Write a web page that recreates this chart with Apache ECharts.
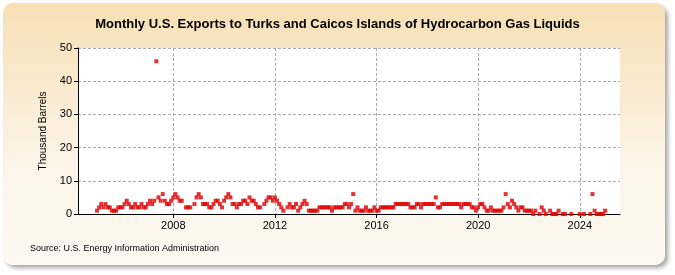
<!DOCTYPE html>
<html>
<head>
<meta charset="utf-8">
<script src="https://cdn.jsdelivr.net/npm/echarts@6/dist/echarts.min.js"></script>
<style>
html,body{margin:0;padding:0;background:#fff;}
#frame{position:absolute;left:3px;top:3px;width:662px;height:262px;border-radius:10px;
background:linear-gradient(#f6dfb4,#fcf4e7 60%,#fdf8f0);box-shadow:3px 3px 4px rgba(0,0,0,0.35);}
#chart{position:absolute;left:0;top:0;width:675px;height:275px;}
</style>
</head>
<body>
<div id="frame"></div>
<div id="chart"></div>
<script>
// Axis span (months): Apr 2004 .. Aug 2025
const axisStartYear = 2004, axisStartMonth = 4;
const axisEndYear = 2025, axisEndMonth = 8;
const tickYears = [2008, 2012, 2016, 2020, 2024];
const yTicks = [0, 10, 20, 30, 40, 50];

// Monthly values, thousand barrels (null = no data)
const dataStartYear = 2005;
const y2005 = [1, 2, 3, 2, 3, 2, 2, 1, 1, 1, 2, 2];
const y2006 = [2, 3, 4, 3, 2, 2, 3, 2, 2, 3, 2, 2];
const y2007 = [3, 4, 3, 4, 46, 5, 4, 6, 4, 3, 3, 4];
const y2008 = [5, 6, 5, 4, 4, null, 2, 2, 2, null, 3, 5];
const y2009 = [6, 5, 3, 3, 3, 2, 2, 3, 4, 4, 3, 2];
const y2010 = [4, 5, 6, 5, 3, 3, 2, 3, 3, 4, 4, 3];
const y2011 = [5, 4, 4, 3, 2, 2, null, 3, 4, 5, 5, 4];
const y2012 = [5, 4, 3, 2, 1, null, 2, 3, 2, 2, 3, 1];
const y2013 = [2, 3, 4, 3, 1, 1, 1, 1, 1, 2, 2, 2];
const y2014 = [2, 2, 2, 1, 2, 2, 2, 2, 2, 3, 3, 2];
const y2015 = [3, 6, 1, 2, 1, 1, 1, 2, 1, 1, 1, 2];
const y2016 = [1, 1, 2, 2, 2, 2, 2, 2, 2, 3, 3, 3];
const y2017 = [3, 3, 3, 3, 2, 2, 2, 3, 3, 2, 3, 3];
const y2018 = [3, 3, 3, 3, 5, 2, 2, 3, 3, 3, 3, 3];
const y2019 = [3, 3, 3, 3, 2, 3, 3, 3, 3, 2, 2, 1];
const y2020 = [2, 3, 3, 2, 1, 1, 2, 1, 1, 1, 1, 1];
const y2021 = [2, 6, 3, 2, 4, 3, 2, 1, 2, 2, 1, 1];
const y2022 = [1, 1, 0, 1, null, 0, 2, 1, 0, null, 1, 0];
const y2023 = [0, 0, 1, null, 0, 0, null, null, 0, null, null, null];
const y2024 = [0, null, 0, null, null, 0, 6, 1, 0, 0, 0, 0];
const y2025 = [1];
const years = [y2005,y2006,y2007,y2008,y2009,y2010,y2011,y2012,y2013,y2014,
  y2015,y2016,y2017,y2018,y2019,y2020,y2021,y2022,y2023,y2024,y2025];

const categories = [];
for (let y = axisStartYear, m = axisStartMonth; y < axisEndYear || (y === axisEndYear && m <= axisEndMonth); ) {
  categories.push(y + '-' + String(m).padStart(2, '0'));
  m++; if (m > 12) { m = 1; y++; }
}
const seriesData = [];
years.forEach((arr, i) => {
  const yr = dataStartYear + i;
  arr.forEach((v, j) => {
    if (v === null) return;
    seriesData.push([yr + '-' + String(j + 1).padStart(2, '0'), v]);
  });
});
const isTick = (idx) => {
  const c = categories[idx];
  return c.endsWith('-01') && tickYears.includes(+c.slice(0, 4));
};

const chart = echarts.init(document.getElementById('chart'), null, {renderer: 'canvas'});
chart.setOption({
  backgroundColor: 'transparent',
  animation: false,
  title: {
    text: 'Monthly U.S. Exports to Turks and Caicos Islands of Hydrocarbon Gas Liquids',
    left: 'center', top: 13,
    textStyle: {fontFamily: 'Liberation Sans', fontSize: 13, fontWeight: 'bold', color: '#000'}
  },
  graphic: [{
    type: 'text', left: 30, top: 244,
    style: {text: 'Source: U.S. Energy Information Administration', font: '9px "Liberation Sans"', fill: '#000'}
  }],
  grid: {left: 78, right: 55, top: 48, bottom: 61, show: true, backgroundColor: '#fff', borderWidth: 0},
  xAxis: {
    type: 'category', data: categories, boundaryGap: false,
    axisLine: {show: true, lineStyle: {color: '#000', width: 1}},
    axisTick: {show: true, alignWithLabel: true, interval: (i) => isTick(i), length: 4, lineStyle: {color: '#000'}},
    axisLabel: {interval: (i) => isTick(i), formatter: (v) => v.slice(0, 4),
      fontFamily: 'Liberation Sans', fontSize: 11, color: '#000', margin: 6},
    splitLine: {show: true, interval: (i) => isTick(i), lineStyle: {color: '#aaa', type: [3, 2], width: 1}}
  },
  yAxis: {
    type: 'value', min: 0, max: 50, interval: 10,
    name: 'Thousand Barrels', nameLocation: 'middle', nameGap: 30, nameRotate: 90,
    nameTextStyle: {fontFamily: 'Liberation Sans', fontSize: 10, color: '#000'},
    axisLine: {show: true, lineStyle: {color: '#000'}},
    axisTick: {show: true, length: 4, lineStyle: {color: '#000'}},
    axisLabel: {fontFamily: 'Liberation Sans', fontSize: 11, color: '#000', margin: 6,
      formatter: (v) => yTicks.includes(v) ? String(v) : ''},
    splitLine: {show: true, lineStyle: {color: '#aaa', type: [3, 2], width: 1}}
  },
  series: [{
    type: 'scatter', data: seriesData, symbol: 'rect', symbolSize: 4,
    itemStyle: {color: '#dd0000'}
  }]
});
</script>
</body>
</html>
